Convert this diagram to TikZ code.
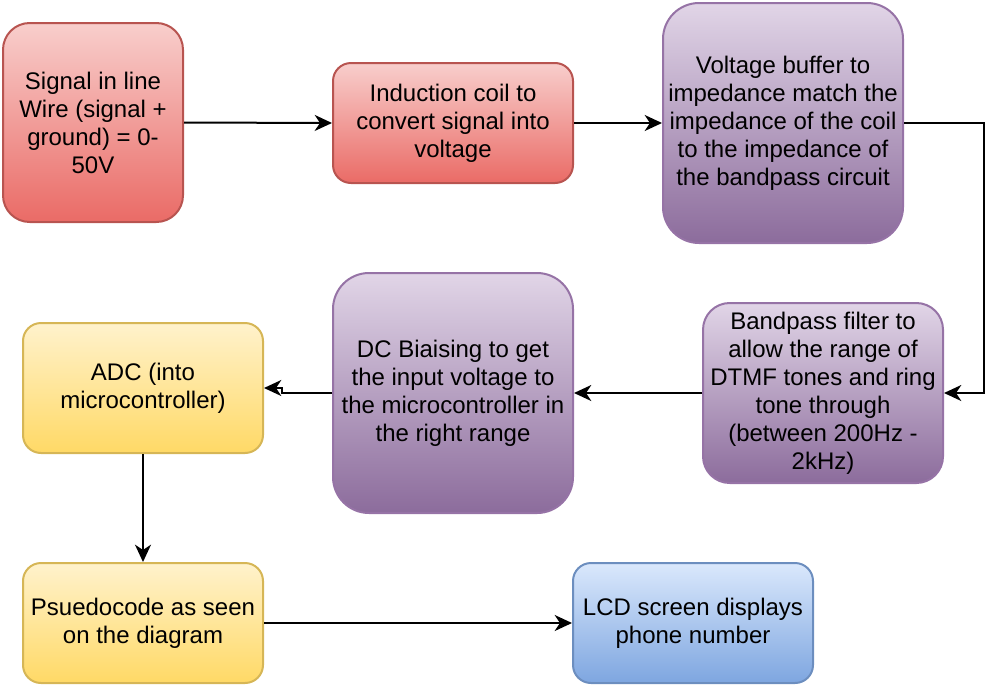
\documentclass[tikz,border=0pt]{standalone}
\usepackage{fontspec}
\setmainfont{Liberation Sans}
\usetikzlibrary{arrows.meta}

\definecolor{redtop}{RGB}{248,206,204}
\definecolor{redbot}{RGB}{234,107,102}
\definecolor{redline}{RGB}{184,84,80}
\definecolor{purtop}{RGB}{225,213,231}
\definecolor{purbot}{RGB}{140,108,156}
\definecolor{purline}{RGB}{150,115,166}
\definecolor{yeltop}{RGB}{255,242,204}
\definecolor{yelbot}{RGB}{255,217,102}
\definecolor{yelline}{RGB}{214,182,86}
\definecolor{blutop}{RGB}{218,232,252}
\definecolor{blubot}{RGB}{126,166,224}
\definecolor{bluline}{RGB}{108,142,191}

\tikzset{
	blockbox/.style={draw, line width=1.5pt, inner sep=0pt, align=center,
		font=\fontsize{18}{21}\selectfont},
	redbox/.style={blockbox, draw=redline, top color=redtop, bottom color=redbot},
	purbox/.style={blockbox, draw=purline, top color=purtop, bottom color=purbot},
	yelbox/.style={blockbox, draw=yelline, top color=yeltop, bottom color=yelbot},
	blubox/.style={blockbox, draw=bluline, top color=blutop, bottom color=blubot},
	conn/.style={line width=1.5pt, -{Stealth[length=13pt,width=12pt,inset=4pt]}}
}

\begin{document}
\begin{tikzpicture}[x=0.75pt,y=0.75pt,yscale=-1,xscale=1]
	\useasboundingbox (0,0) rectangle (1002,686);

	%Shape: Rounded Rectangle [signal]
	\node (signal) [redbox, minimum width=180*0.75pt, minimum height=199*0.75pt, rounded corners=20pt] at (93,122.5)
		{Signal in line\\Wire (signal +\\ground) = 0-\\50V};
	%Shape: Rounded Rectangle [coil]
	\node (coil) [redbox, minimum width=240*0.75pt, minimum height=120*0.75pt, rounded corners=13.5pt] at (453,123)
		{Induction coil to\\convert signal into\\voltage};
	%Shape: Rounded Rectangle [buffer]
	\node (buffer) [purbox, minimum width=240*0.75pt, minimum height=240*0.75pt, rounded corners=27pt] at (783,123)
		{Voltage buffer to\\impedance match the\\impedance of the coil\\to the impedance of\\the bandpass circuit};
	%Shape: Rounded Rectangle [bandpass]
	\node (bandpass) [purbox, minimum width=240*0.75pt, minimum height=180*0.75pt, rounded corners=20pt] at (823,393)
		{Bandpass filter to\\allow the range of\\DTMF tones and ring\\tone through\\(between 200Hz -\\2kHz)};
	%Shape: Rounded Rectangle [biasing]
	\node (biasing) [purbox, minimum width=240*0.75pt, minimum height=240*0.75pt, rounded corners=27pt] at (453,393)
		{DC Biaising to get\\the input voltage to\\the microcontroller in\\the right range};
	%Shape: Rounded Rectangle [adc]
	\node (adc) [yelbox, minimum width=240*0.75pt, minimum height=130*0.75pt, rounded corners=13.5pt] at (143,388)
		{ADC (into\\microcontroller)};
	%Shape: Rounded Rectangle [pseudo]
	\node (pseudo) [yelbox, minimum width=240*0.75pt, minimum height=120*0.75pt, rounded corners=13.5pt] at (143,623)
		{Psuedocode as seen\\on the diagram};
	%Shape: Rounded Rectangle [lcd]
	\node (lcd) [blubox, minimum width=240*0.75pt, minimum height=120*0.75pt, rounded corners=13.5pt] at (693,623)
		{LCD screen displays\\phone number};

	%Straight Lines
	\draw [conn] (signal.east) -- (coil.west);
	\draw [conn] (coil.east) -- (buffer.west);
	\draw [conn] (buffer.east) -- ++(80,0) |- (bandpass.east);
	\draw [conn] (bandpass.west) -- (biasing.east);
	\draw [conn] (biasing.west) -- ++(-50,0) |- (adc.east);
	\draw [conn] (adc.south) -- (pseudo.north);
	\draw [conn] (pseudo.east) -- (lcd.west);

\end{tikzpicture}
\end{document}
